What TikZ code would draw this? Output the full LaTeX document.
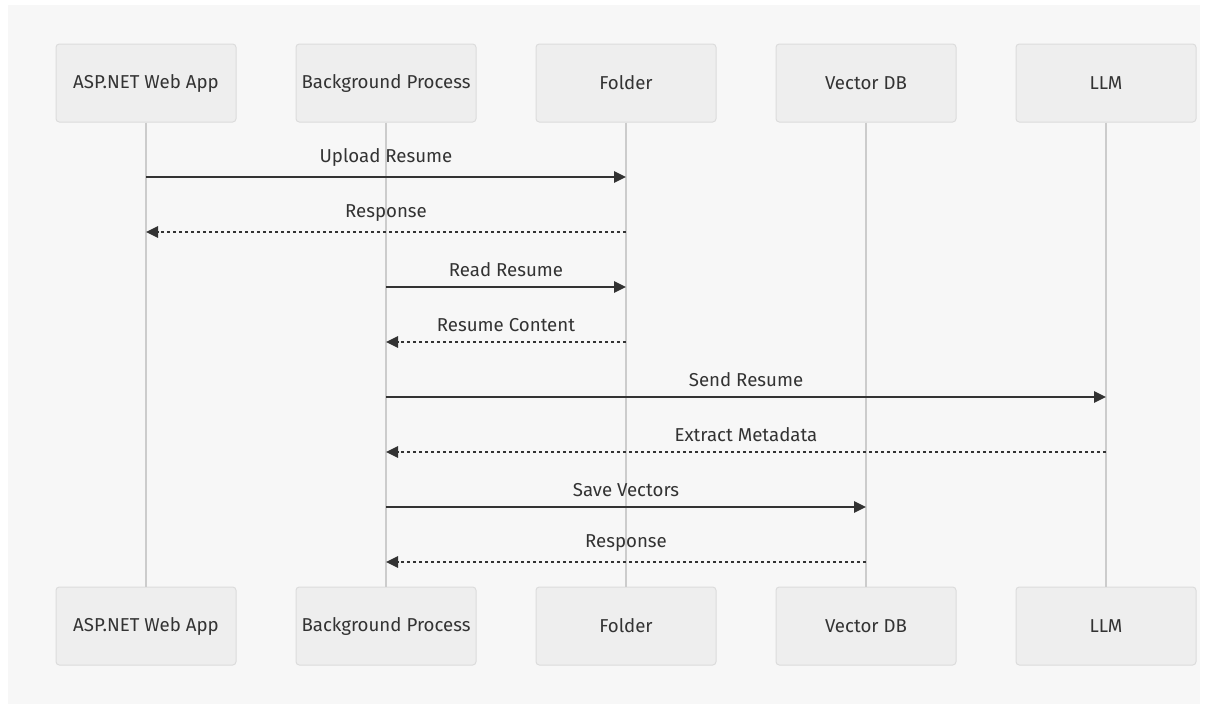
\documentclass[tikz,border=0pt]{standalone}
\usepackage{fontspec}
\setmainfont{Fira Sans}
\usetikzlibrary{arrows.meta}

\definecolor{txt}{HTML}{333333}
\definecolor{boxfill}{HTML}{EEEEEE}
\definecolor{boxline}{HTML}{DCDCDC}
\definecolor{lifeline}{HTML}{CCCCCC}
\definecolor{canvas}{HTML}{F7F7F7}

\begin{document}
\begin{tikzpicture}[x=0.75pt, y=-0.75pt, node distance=180pt, font=\fontsize{14pt}{16pt}\selectfont,
		main/.style = {draw=boxline, fill=boxfill, line width=0.75pt, rounded corners=2.5pt, minimum width=135pt, minimum height=58.5pt, text=txt},
		life/.style = {draw=lifeline, line width=1.5pt},
		msg/.style = {draw=txt, line width=1.5pt, -{Triangle[length=9pt,width=8.5pt]}},
		reply/.style = {msg, dash pattern=on 2.25pt off 2.25pt},
		lbl/.style = {above=7pt, inner sep=0pt, text=txt}]
		\useasboundingbox (0,0) rectangle (1209,704);
		\fill[white] (0,0) rectangle (1209,704);
		\fill[canvas] (8,5) rectangle (1200,704);
		
		%Participants at the top
		\node[main] (1) at (146,83) {ASP.NET Web App};
		\node[main] (2) [right of=1] {Background Process};
		\node[main] (3) [right of=2] {Folder};
		\node[main] (4) [right of=3] {Vector DB};
		\node[main] (5) [right of=4] {LLM};
		%Same participants repeated at the bottom
		\node[main] (6) [node distance=407.25pt, below of=1] {ASP.NET Web App};
		\node[main] (7) [node distance=407.25pt, below of=2] {Background Process};
		\node[main] (8) [node distance=407.25pt, below of=3] {Folder};
		\node[main] (9) [node distance=407.25pt, below of=4] {Vector DB};
		\node[main] (10) [node distance=407.25pt, below of=5] {LLM};
		
		%Lifelines
		\draw[life] (1) -- (6);
		\draw[life] (2) -- (7);
		\draw[life] (3) -- (8);
		\draw[life] (4) -- (9);
		\draw[life] (5) -- (10);
		
		%Messages
		\draw[msg] (1 |- 0,177) -- node[lbl] {Upload Resume} (3 |- 0,177); %Web app -> Folder
		\draw[reply] (3 |- 0,232) -- node[lbl] {Response} (1 |- 0,232); %Folder -> Web app
		\draw[msg] (2 |- 0,287) -- node[lbl] {Read Resume} (3 |- 0,287); %Process -> Folder
		\draw[reply] (3 |- 0,342) -- node[lbl] {Resume Content} (2 |- 0,342); %Folder -> Process
		\draw[msg] (2 |- 0,397) -- node[lbl] {Send Resume} (5 |- 0,397); %Process -> LLM
		\draw[reply] (5 |- 0,452) -- node[lbl] {Extract Metadata} (2 |- 0,452); %LLM -> Process
		\draw[msg] (2 |- 0,507) -- node[lbl] {Save Vectors} (4 |- 0,507); %Process -> Vector DB
		\draw[reply] (4 |- 0,562) -- node[lbl] {Response} (2 |- 0,562); %Vector DB -> Process
	\end{tikzpicture}
\end{document}
